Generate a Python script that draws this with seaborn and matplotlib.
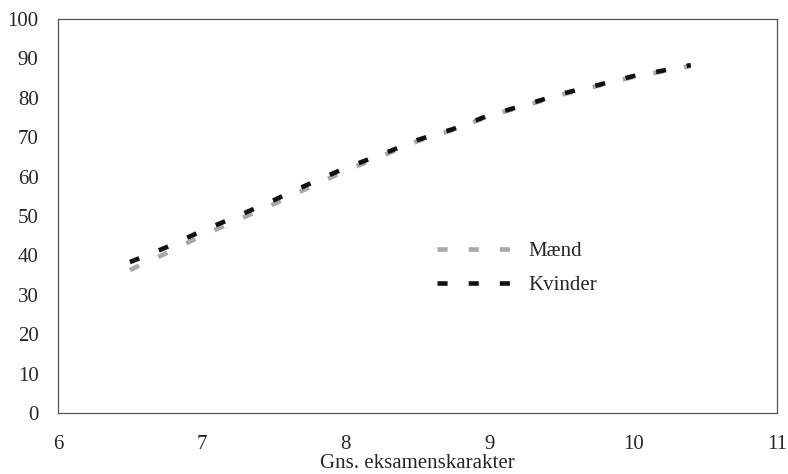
import matplotlib
matplotlib.use("Agg")
import matplotlib.pyplot as plt
import seaborn as sns
import pandas as pd
from matplotlib.lines import Line2D

x_vals = [6.5, 6.75, 7.0, 7.25, 7.5, 7.75, 8.0, 8.25, 8.5, 8.75, 9.0, 9.25, 9.5, 9.75, 10.0, 10.25, 10.4]
kvinder = [38.3, 42.0, 46.2, 50.0, 54.0, 58.2, 62.2, 65.6, 69.3, 72.1, 75.6, 78.2, 81.0, 83.2, 85.5, 87.2, 88.3]
maend = [36.3, 40.5, 45.0, 49.0, 53.0, 57.3, 61.5, 65.2, 69.0, 71.9, 75.4, 78.0, 80.8, 83.0, 85.3, 87.0, 88.1]
series_names = ["Mænd", "Kvinder"]
x_ticks = [6, 7, 8, 9, 10, 11]
y_ticks = [0, 10, 20, 30, 40, 50, 60, 70, 80, 90, 100]
x_label = "Gns. eksamenskarakter"

sns.set_style("white")
plt.rcParams["font.family"] = ["Liberation Serif", "DejaVu Serif"]

df = pd.DataFrame({
    "x": x_vals * 2,
    "y": maend + kvinder,
    "serie": [series_names[0]] * len(x_vals) + [series_names[1]] * len(x_vals),
})

LW = 3.3
DASH = (2.2, 4.6)
colors = {series_names[0]: "#a8a8a8", series_names[1]: "#111111"}

fig = plt.figure(figsize=(7.88, 4.74), dpi=100)
ax = fig.add_axes([58 / 788, 1 - 413 / 474, (777 - 58) / 788, (413 - 19) / 474])

sns.lineplot(data=df, x="x", y="y", hue="serie", style="serie",
             palette=colors,
             dashes={series_names[0]: DASH, series_names[1]: DASH},
             linewidth=LW, ax=ax, legend=False)

for ln in ax.get_lines():
    ln.set_dash_capstyle("butt")

ax.set_xlim(6, 11)
ax.set_ylim(0, 100)
ax.set_xticks(x_ticks)
ax.set_yticks(y_ticks)
ax.set_xticklabels([str(t) for t in x_ticks], fontsize=15)
ax.set_yticklabels([str(t) for t in y_ticks], fontsize=15)
ax.tick_params(axis="both", length=0)
ax.tick_params(axis="x", pad=16)
ax.tick_params(axis="y", pad=14)
ax.set_xlabel(x_label, fontsize=15, labelpad=0)
ax.set_ylabel("")
for s in ax.spines.values():
    s.set_color("#555555")
    s.set_linewidth(0.9)

handles = [Line2D([], [], color=colors[series_names[0]], lw=LW, dashes=DASH, dash_capstyle="butt"),
           Line2D([], [], color=colors[series_names[1]], lw=LW, dashes=DASH, dash_capstyle="butt")]
fig.legend(handles, series_names, loc="upper left",
           bbox_to_anchor=(418 / 788, 1 - 223 / 474), frameon=False,
           fontsize=15, handlelength=3.9, handletextpad=0.5, labelspacing=0.7)

fig.savefig("out.png", dpi=100)
